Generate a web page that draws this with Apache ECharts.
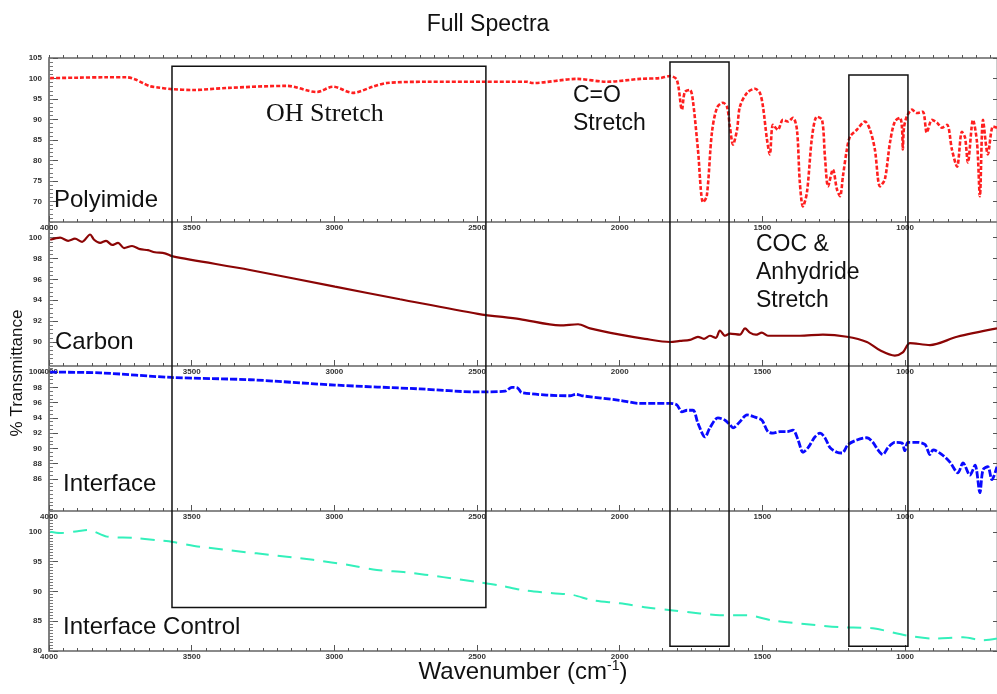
<!DOCTYPE html>
<html><head><meta charset="utf-8">
<script src="https://cdn.jsdelivr.net/npm/echarts@6/dist/echarts.min.js"></script>
<style>html,body{margin:0;padding:0;background:#fff}#c{width:997px;height:694px}</style>
</head><body><div id="c"></div>
<script>
// ---------- data ----------
const xTickLabels = [4000, 3500, 3000, 2500, 2000, 1500, 1000];
const X_MIN = 678, X_MAX = 4000;

const panelNames = ['Polyimide', 'Carbon', 'Interface', 'Interface Control'];
const panelMin = [65, 87.7, 81.8, 80];
const panelMax = [105, 101.5, 100.8, 103.5];
const polyimideTicks = [70, 75, 80, 85, 90, 95, 100, 105];
const carbonTicks = [90, 92, 94, 96, 98, 100];
const interfaceTicks = [86, 88, 90, 92, 94, 96, 98, 100];
const controlTicks = [80, 85, 90, 95, 100];

const polyimideWn = [3996,3900,3800,3727,3699,3671,3646,3618,3569,3495,3376,3166,3061,3005,2935,2865,2816,2676,2479,2325,2304,2150,2045,1929,1859,1824,
  1800,1782,1772,1754,1744,1726,1708,1695,1677,1659,1638,1624,1614,1603,1589,1579,1554,1526,1509,1498,1484,1474,1463,1446,1428,1411,1393,1379,1369,1358,1344,1326,1309,1291,1281,1270,1253,1239,1228,1218,1204,1193,1169,1141,1123,1106,1088,1071,1053,1036,1018,1011,1008,1004,994,976,959,938,924,906,888,871,853,836,818,801,790,780,762,748,738,727,710,692,678];
const polyimideT = [100.1,100.2,100.3,100.3,99.8,98.9,98.1,97.8,97.4,97.2,97.7,98.2,96.7,98.0,96.5,98.0,98.9,99.2,99.2,99.2,98.9,99.9,99.2,99.9,100.1,100.6,
  99.7,92.4,96.7,97.2,94.8,82.7,69.8,71.3,86.8,92.9,94.1,93.1,88.3,83.9,87.5,93.1,96.5,97.5,96.5,93.1,85.1,81.5,88.7,87.5,89.9,89.5,90.4,87.5,74.7,68.8,72.2,85.8,90.7,89.9,81.0,73.7,77.8,73.0,71.3,76.1,82.7,85.8,87.5,89.5,87.5,82.7,73.7,75.4,84.4,89.5,90.4,88.0,82.7,88.0,90.7,92.4,91.6,91.9,86.8,89.9,89.2,88.0,88.7,82.7,78.5,87.0,85.6,79.5,89.9,84.4,71.3,89.9,81.5,88.3,88.0];

const carbonWn = [3996,3961,3933,3909,3884,3856,3842,3821,3800,3779,3758,3737,3709,3681,3653,3629,3594,3566,3296,2998,2770,2497,2350,2209,2146,2104,1999,1912,1824,1789,1754,1726,1705,1684,1663,1649,1631,1614,1579,1561,1544,1523,1502,1481,1439,1369,1288,1204,1134,1088,1036,1008,983,913,818,678];
const carbonT = [99.8,100.0,99.7,99.9,99.6,100.3,99.8,99.5,99.7,99.3,99.5,99.0,99.2,98.9,98.8,98.6,98.5,98.2,96.9,95.3,94.1,92.7,92.2,91.6,91.7,91.3,90.7,90.3,90.0,90.1,90.2,90.5,90.3,90.6,90.4,91.1,90.6,90.8,90.7,91.3,90.9,90.7,90.9,90.6,90.6,90.6,90.7,90.5,90.0,89.2,88.7,89.0,89.9,89.7,90.5,91.3];

const interfaceWn = [3996,3821,3569,3296,2998,2700,2497,2402,2378,2357,2343,2174,2153,2132,1999,1929,1824,1800,1782,1764,1743,1726,1701,1684,1656,1631,1614,1603,1579,1554,1526,1502,1481,1463,1439,1414,1393,1375,1358,1340,1316,1298,1281,1263,1239,1221,1200,1169,1134,1113,1095,1078,1060,1036,1011,1001,990,958,930,913,902,871,843,815,797,773,755,738,727,710,696,678];
const interfaceT = [100.0,99.9,99.3,99.0,98.3,97.8,97.4,97.5,98.0,97.9,97.3,96.9,97.1,96.9,96.3,95.9,95.9,95.7,94.8,95.0,95.0,93.3,91.5,92.7,94.0,93.7,93.1,92.7,93.5,94.4,94.1,93.7,92.2,92.0,92.2,92.2,92.4,91.1,89.5,90.1,91.5,92.0,91.4,90.1,89.5,89.4,90.5,91.1,91.4,90.8,89.8,89.2,90.1,90.8,90.7,89.7,90.8,90.8,90.5,89.2,89.8,89.2,88.2,86.8,88.1,86.5,87.8,84.2,87.2,87.6,85.9,87.6];

const controlWn = [3996,3961,3900,3863,3797,3706,3622,3566,3471,3075,2945,2851,2746,2619,2500,2420,2339,2234,2164,2094,1999,1905,1813,1719,1649,1554,1463,1344,1228,1113,993,902,797,727,678];
const controlT = [100.0,99.8,100.1,100.3,99.2,99.0,98.6,98.3,97.5,95.3,94.4,93.6,93.2,92.4,91.6,91.0,90.2,89.7,89.4,88.5,88.0,87.3,86.8,86.3,86.0,86.0,85.1,84.5,84.0,83.8,82.6,82.1,82.3,81.8,82.1];

// annotation boxes: wavenumber span, top value (panel 1), bottom value (panel 4)
const boxWn = [[3569, 2469], [1824, 1617], [1197, 990]];
const boxTop = [103.0, 104.0, 100.85];
const boxBottom = [87.3, 80.8, 80.8];

// ---------- chart ----------
function range(a, b, step) { const r = []; for (let v = a; v <= b + 1e-9; v += step) r.push(Math.round(v * 100) / 100); return r; }
const xMinor = range(700, 4000, 50);
const yTicks = [polyimideTicks, carbonTicks, interfaceTicks, controlTicks];
const yMinorStep = [1, 0.4, 0.5, 0.5];
const gridPos = [{top: 58, height: 164}, {top: 222, height: 144}, {top: 366, height: 145}, {top: 511, height: 140}];
const lbl = {fontSize: 8, fontWeight: 'bold', color: '#333', fontFamily: 'Arial', formatter: v => String(v)};

const grids = gridPos.map(g => ({left: 49, right: 0, top: g.top, height: g.height, show: true, borderColor: '#999', borderWidth: 1}));
const xAxes = [], yAxes = [], mainX = [], mainY = [];
gridPos.forEach((g, i) => {
  mainX.push(xAxes.length);
  xAxes.push({gridIndex: i, type: 'value', min: X_MIN, max: X_MAX, inverse: true, position: 'bottom',
    axisLine: {show: true, onZero: false, lineStyle: {color: '#8a8a8a', width: 2}},
    axisTick: {show: true, inside: true, length: 3, customValues: xMinor, lineStyle: {color: '#555', width: 1}},
    axisLabel: Object.assign({show: true, customValues: xTickLabels, margin: 2}, lbl),
    splitLine: {show: false}});
  xAxes.push({gridIndex: i, type: 'value', min: X_MIN, max: X_MAX, inverse: true, position: 'bottom',
    axisLine: {show: false}, axisTick: {show: true, inside: true, length: 6, customValues: xTickLabels, lineStyle: {color: '#555', width: 1}},
    axisLabel: {show: false}, splitLine: {show: false}});
  if (i === 0) {
    xAxes.push({gridIndex: i, type: 'value', min: X_MIN, max: X_MAX, inverse: true, position: 'top',
      axisLine: {show: true, onZero: false, lineStyle: {color: '#8a8a8a', width: 2}},
      axisTick: {show: true, inside: false, length: 3, customValues: xMinor, lineStyle: {color: '#555', width: 1}},
      axisLabel: {show: false}, splitLine: {show: false}});
  }
  mainY.push(yAxes.length);
  yAxes.push({gridIndex: i, type: 'value', min: panelMin[i], max: panelMax[i], position: 'left',
    axisLine: {show: true, onZero: false, lineStyle: {color: '#666', width: 1.5}},
    axisTick: {show: true, inside: true, length: 9, customValues: yTicks[i], lineStyle: {color: '#555', width: 1}},
    axisLabel: Object.assign({show: true, customValues: yTicks[i], margin: 7}, lbl),
    splitLine: {show: false}});
  const lo = Math.ceil(panelMin[i] / yMinorStep[i]) * yMinorStep[i];
  yAxes.push({gridIndex: i, type: 'value', min: panelMin[i], max: panelMax[i], position: 'left',
    axisLine: {show: false}, axisTick: {show: true, inside: true, length: 4, customValues: range(lo, panelMax[i], yMinorStep[i]), lineStyle: {color: '#777', width: 1}},
    axisLabel: {show: false}, splitLine: {show: false}});
  yAxes.push({gridIndex: i, type: 'value', min: panelMin[i], max: panelMax[i], position: 'right',
    axisLine: {show: true, onZero: false, lineStyle: {color: '#999', width: 1}}, axisTick: {show: true, inside: true, length: 4, customValues: yTicks[i], lineStyle: {color: '#555'}},
    axisLabel: {show: false}, splitLine: {show: false}});
});

const pairs = (w, t) => w.map((v, k) => [v, t[k]]);
const seriesDefs = [
  {d: pairs(polyimideWn, polyimideT), color: '#ff1f1f', width: 2.6, type: [4, 2]},
  {d: pairs(carbonWn, carbonT), color: '#8b0505', width: 2.2, type: 'solid'},
  {d: pairs(interfaceWn, interfaceT), color: '#0a0aff', width: 2.8, type: [7, 2]},
  {d: pairs(controlWn, controlT), color: '#33f0bb', width: 2, type: [14, 9]}
];
const series = seriesDefs.map((s, i) => ({
  name: panelNames[i], type: 'line', xAxisIndex: mainX[i], yAxisIndex: mainY[i], data: s.d,
  showSymbol: false, smooth: 0.3, lineStyle: {color: s.color, width: s.width, type: s.type}, z: 3
}));

const chart = echarts.init(document.getElementById('c'));
chart.setOption({animation: false, grid: grids, xAxis: xAxes, yAxis: yAxes, series: series});

const F = 'Arial, "Liberation Sans", sans-serif';
const txt = (t, x, y, size) => ({type: 'text', x: x, y: y, z: 110,
  style: {text: t, fill: '#111', font: size + 'px ' + F, textAlign: 'left', textVerticalAlign: 'middle'}});
const graphics = [
  {type: 'text', x: 488, y: 25, z: 110, style: {text: 'Full Spectra', fill: '#111', font: '23px ' + F, textAlign: 'center', textVerticalAlign: 'middle'}},
  txt(panelNames[0], 54, 200, 24),
  txt(panelNames[1], 55, 342, 24),
  txt(panelNames[2], 63, 484, 24),
  txt(panelNames[3], 63, 627, 24),
  txt('C=O', 573, 96, 23),
  txt('Stretch', 573, 124, 23),
  txt('COC &', 756, 245, 23),
  txt('Anhydride', 756, 273, 23),
  txt('Stretch', 756, 301, 23),
  {type: 'text', x: 266, y: 114, z: 110, style: {text: 'OH Stretch', fill: '#111', font: '26px "Liberation Serif", "Times New Roman", serif', textAlign: 'left', textVerticalAlign: 'middle'}},
  {type: 'text', x: 17, y: 373, rotation: Math.PI / 2, z: 110, style: {text: '% Transmittance', fill: '#111', font: '17px ' + F, textAlign: 'center', textVerticalAlign: 'middle'}},
  {type: 'text', x: 523, y: 672, z: 110, style: {text: '{a|Wavenumber (cm}{s|-1}{a|)}', textAlign: 'center', textVerticalAlign: 'middle',
    rich: {a: {font: '24px ' + F, fill: '#111'}, s: {font: '14px ' + F, fill: '#111', verticalAlign: 'top', padding: [0, 0, 12, 0]}}}}
];
boxWn.forEach((b, k) => {
  const p1 = chart.convertToPixel({xAxisIndex: mainX[0], yAxisIndex: mainY[0]}, [b[0], boxTop[k]]);
  const p2 = chart.convertToPixel({xAxisIndex: mainX[3], yAxisIndex: mainY[3]}, [b[1], boxBottom[k]]);
  graphics.push({type: 'rect', z: 100, shape: {x: p1[0], y: p1[1], width: p2[0] - p1[0], height: p2[1] - p1[1]},
    style: {fill: 'none', stroke: '#111', lineWidth: 1.5}});
});
chart.setOption({graphic: graphics});
</script></body></html>
